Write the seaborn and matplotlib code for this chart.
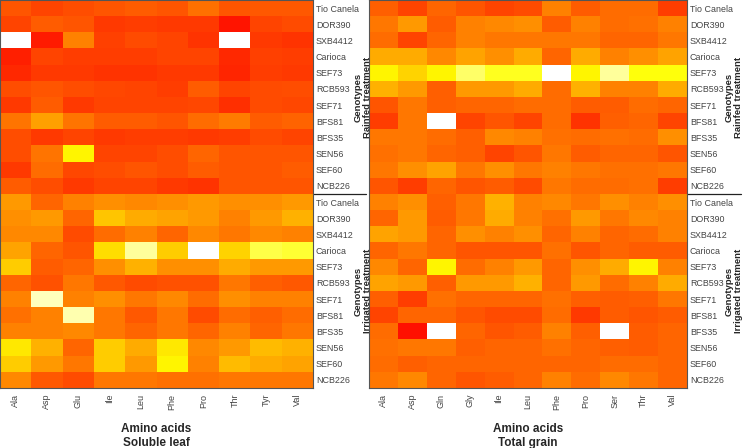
import numpy as np
import pandas as pd
import seaborn as sns
import matplotlib.pyplot as plt
from matplotlib.colors import LinearSegmentedColormap

sns.set_style("white")
plt.rcParams["font.family"] = ["Liberation Sans", "DejaVu Sans"]

genotypes = ["Tio Canela", "DOR390", "SXB4412", "Carioca", "SEF73", "RCB593",
             "SEF71", "BFS81", "BFS35", "SEN56", "SEF60", "NCB226"]
leaf_acids = ["Ala", "Asp", "Glu", "Ile", "Leu", "Phe", "Pro", "Thr", "Tyr", "Val"]
grain_acids = ["Ala", "Asp", "Gln", "Gly", "Ile", "Leu", "Phe", "Pro", "Ser", "Thr", "Val"]

# relative levels (0 = red, 1 = white)
leaf_rainfed = [
    [0.25, 0.20, 0.23, 0.25, 0.27, 0.25, 0.33, 0.25, 0.26, 0.26],
    [0.20, 0.27, 0.25, 0.17, 0.18, 0.17, 0.17, 0.06, 0.20, 0.22],
    [1.00, 0.08, 0.38, 0.19, 0.22, 0.20, 0.15, 1.00, 0.17, 0.15],
    [0.09, 0.20, 0.18, 0.18, 0.18, 0.20, 0.20, 0.12, 0.19, 0.18],
    [0.12, 0.17, 0.17, 0.15, 0.15, 0.17, 0.17, 0.11, 0.18, 0.17],
    [0.23, 0.25, 0.23, 0.21, 0.20, 0.18, 0.27, 0.20, 0.22, 0.23],
    [0.17, 0.27, 0.17, 0.20, 0.20, 0.20, 0.21, 0.14, 0.22, 0.21],
    [0.34, 0.47, 0.34, 0.27, 0.27, 0.25, 0.32, 0.36, 0.27, 0.29],
    [0.23, 0.17, 0.20, 0.17, 0.18, 0.18, 0.17, 0.18, 0.22, 0.20],
    [0.23, 0.34, 0.72, 0.20, 0.20, 0.23, 0.30, 0.25, 0.25, 0.25],
    [0.17, 0.32, 0.21, 0.23, 0.25, 0.23, 0.27, 0.25, 0.25, 0.27],
    [0.27, 0.23, 0.17, 0.20, 0.20, 0.17, 0.15, 0.25, 0.25, 0.25],
]
leaf_irrigated = [
    [0.45, 0.30, 0.38, 0.42, 0.40, 0.42, 0.45, 0.42, 0.42, 0.45],
    [0.42, 0.45, 0.30, 0.58, 0.50, 0.48, 0.45, 0.38, 0.45, 0.52],
    [0.40, 0.40, 0.22, 0.32, 0.38, 0.30, 0.40, 0.35, 0.40, 0.38],
    [0.48, 0.30, 0.25, 0.65, 0.90, 0.60, 1.00, 0.62, 0.82, 0.80],
    [0.60, 0.27, 0.30, 0.42, 0.52, 0.42, 0.42, 0.50, 0.45, 0.45],
    [0.30, 0.24, 0.35, 0.26, 0.22, 0.24, 0.24, 0.35, 0.28, 0.26],
    [0.38, 0.93, 0.38, 0.42, 0.35, 0.40, 0.32, 0.42, 0.38, 0.38],
    [0.33, 0.38, 0.92, 0.35, 0.26, 0.35, 0.22, 0.32, 0.28, 0.32],
    [0.38, 0.38, 0.40, 0.35, 0.30, 0.35, 0.30, 0.38, 0.30, 0.35],
    [0.68, 0.52, 0.30, 0.60, 0.50, 0.68, 0.40, 0.45, 0.55, 0.52],
    [0.60, 0.45, 0.35, 0.60, 0.45, 0.72, 0.38, 0.55, 0.50, 0.48],
    [0.40, 0.26, 0.22, 0.35, 0.35, 0.33, 0.33, 0.35, 0.35, 0.35],
]
grain_rainfed = [
    [0.28, 0.20, 0.30, 0.25, 0.20, 0.22, 0.38, 0.27, 0.32, 0.32, 0.18],
    [0.35, 0.45, 0.27, 0.38, 0.40, 0.42, 0.27, 0.38, 0.32, 0.33, 0.38],
    [0.32, 0.20, 0.30, 0.38, 0.35, 0.35, 0.35, 0.35, 0.30, 0.30, 0.35],
    [0.50, 0.50, 0.40, 0.48, 0.42, 0.50, 0.30, 0.50, 0.38, 0.42, 0.48],
    [0.72, 0.62, 0.72, 0.85, 0.78, 0.78, 1.00, 0.72, 0.90, 0.76, 0.76],
    [0.52, 0.45, 0.28, 0.45, 0.45, 0.50, 0.32, 0.52, 0.38, 0.38, 0.50],
    [0.25, 0.35, 0.28, 0.30, 0.30, 0.32, 0.32, 0.27, 0.27, 0.32, 0.30],
    [0.18, 0.35, 1.00, 0.20, 0.25, 0.20, 0.32, 0.15, 0.28, 0.30, 0.20],
    [0.35, 0.35, 0.32, 0.28, 0.40, 0.38, 0.33, 0.32, 0.33, 0.32, 0.42],
    [0.33, 0.35, 0.30, 0.28, 0.20, 0.25, 0.35, 0.27, 0.30, 0.30, 0.25],
    [0.35, 0.42, 0.48, 0.35, 0.42, 0.35, 0.38, 0.35, 0.33, 0.33, 0.35],
    [0.25, 0.18, 0.30, 0.25, 0.27, 0.22, 0.35, 0.32, 0.32, 0.33, 0.18],
]
grain_irrigated = [
    [0.38, 0.42, 0.28, 0.35, 0.52, 0.38, 0.40, 0.35, 0.42, 0.38, 0.42],
    [0.30, 0.45, 0.27, 0.35, 0.50, 0.38, 0.33, 0.45, 0.35, 0.40, 0.38],
    [0.48, 0.45, 0.30, 0.42, 0.38, 0.42, 0.30, 0.38, 0.30, 0.32, 0.38],
    [0.30, 0.35, 0.30, 0.25, 0.25, 0.25, 0.33, 0.25, 0.30, 0.27, 0.27],
    [0.40, 0.30, 0.72, 0.32, 0.38, 0.45, 0.30, 0.42, 0.50, 0.72, 0.38],
    [0.48, 0.45, 0.28, 0.45, 0.45, 0.52, 0.30, 0.45, 0.32, 0.38, 0.50],
    [0.28, 0.18, 0.33, 0.30, 0.30, 0.30, 0.33, 0.28, 0.27, 0.28, 0.35],
    [0.20, 0.30, 0.30, 0.25, 0.22, 0.22, 0.32, 0.17, 0.27, 0.25, 0.27],
    [0.32, 0.05, 1.00, 0.30, 0.25, 0.27, 0.38, 0.28, 1.00, 0.27, 0.30],
    [0.33, 0.35, 0.35, 0.28, 0.30, 0.30, 0.33, 0.30, 0.28, 0.27, 0.30],
    [0.32, 0.28, 0.30, 0.30, 0.30, 0.30, 0.30, 0.30, 0.32, 0.32, 0.30],
    [0.35, 0.40, 0.30, 0.25, 0.27, 0.30, 0.38, 0.32, 0.40, 0.35, 0.30],
]

# heat-colors style: red -> yellow -> white
cmap = LinearSegmentedColormap.from_list(
    "heat", [(0, "#FF0000"), (0.75, "#FFFF00"), (1, "#FFFFFF")])

fig = plt.figure(figsize=(7.43, 4.48), dpi=100)
bottom = 60 / 448
height = 388 / 448
ax_leaf = fig.add_axes([0, bottom, 313 / 743, height])
ax_grain = fig.add_axes([369 / 743, bottom, 318 / 743, height])

panels = [
    (ax_leaf, leaf_acids, leaf_rainfed, leaf_irrigated, "Amino acids\nSoluble leaf", 1.16),
    (ax_grain, grain_acids, grain_rainfed, grain_irrigated, "Amino acids\nTotal grain", 1.148),
]

for ax, acids, rainfed, irrigated, xlab, lab_x in panels:
    df = pd.DataFrame(np.vstack([rainfed, irrigated]), columns=acids)
    sns.heatmap(df, ax=ax, cmap=cmap, vmin=0, vmax=1, cbar=False,
                xticklabels=acids, yticklabels=genotypes * 2)
    ax.yaxis.tick_right()
    ax.tick_params(axis="y", length=0, labelsize=6.4, labelcolor="#444444", pad=2)
    ax.tick_params(axis="x", length=0, labelsize=6.5, labelcolor="#444444", pad=4)
    ax.set_yticklabels(genotypes * 2, rotation=0)
    ax.set_xticklabels(acids, rotation=90)
    ax.set_xlabel(xlab, fontweight="bold", fontsize=8.5, labelpad=10)
    for s in ax.spines.values():
        s.set_visible(True)
        s.set_color("#555555")
        s.set_linewidth(0.8)
    # separator between treatments in the label column
    ax.plot([1, 1.17], [0.5, 0.5], transform=ax.transAxes, color="#222222",
            lw=0.9, clip_on=False)
    ax.text(lab_x, 0.75, "Genotypes\nRainfed treatment", transform=ax.transAxes,
            rotation=90, ha="center", va="center", fontweight="bold", fontsize=6.8,
            linespacing=1.0)
    ax.text(lab_x, 0.25, "Genotypes\nIrrigated treatment", transform=ax.transAxes,
            rotation=90, ha="center", va="center", fontweight="bold", fontsize=6.8,
            linespacing=1.0)

fig.savefig("out.png", dpi=100)
